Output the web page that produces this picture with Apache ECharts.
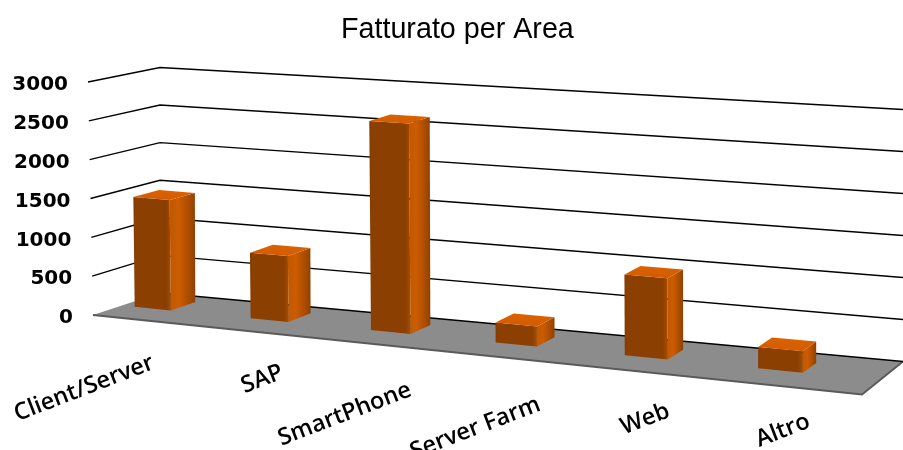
<!DOCTYPE html>
<html><head><meta charset="utf-8">
<style>html,body{margin:0;padding:0;background:#fff}#c{width:903px;height:450px}</style>
<script src="https://cdn.jsdelivr.net/npm/echarts@6/dist/echarts.min.js"></script>
</head><body><div id="c"></div>
<script>
const titleText = 'Fatturato per Area';
const categories = ['Client/Server','SAP','SmartPhone','Server Farm','Web','Altro'];
const fatturato = [1430,840,2630,246,978,255];
const yTicks = [0,500,1000,1500,2000,2500,3000];
// small per-label corrections of the tilted category labels [dx, dy]
const labelShift = [[0,0],[1,-2],[1,4],[2,7],[3,2],[15,1]];

const chart = echarts.init(document.getElementById('c'), null, {renderer:'canvas'});
const GL=93, GR=41, GT=82, GB=135;

// oblique projection of the plot box: across (a 0..1), depth (d 0..1), height in grid pixels
function warp(u){ return -0.034 + 0.89*u + 0.104*u*u; }
function proj(cs, a, d, h){
  const w = cs.width, bottom = cs.y + cs.height;
  const lean = 5/233*h*(1-d)*(1-a);
  const x = cs.x + 67*d + (w - 26*d)*a - lean;
  const y0 = bottom - 22*d + (79.5 - 11*d)*a;
  const f = (1 + 0.117*a)*(1 - 0.032*d);
  return [x, y0 - h*f];
}
const hpx = (api, cs, v) => cs.y + cs.height - api.coord([0, v])[1];

function renderFloor(params, api){
  const cs = params.coordSys;
  if (params.dataIndex !== 0) return null;
  const c = [proj(cs,0,0,0), proj(cs,1,0,0), proj(cs,1,1,0), proj(cs,0,1,0)];
  return {type:'group', children:[
    {type:'polygon', shape:{points:c}, style:{fill:'#8c8c8c'}},
    {type:'polyline', shape:{points:[c[0],c[1],c[2]]}, style:{stroke:'#5a5a5a', lineWidth:2, fill:null}}
  ]};
}
function renderGrid(params, api){
  const cs = params.coordSys, v = api.value(1), h = hpx(api, cs, v);
  const pts = v === 0 ? [proj(cs,0,1,h), proj(cs,1,1,h)]
                      : [proj(cs,0,0,h), proj(cs,0,1,h), proj(cs,1,1,h)];
  return {type:'polyline', shape:{points:pts}, style:{stroke:'#000', lineWidth:1.4, fill:null}};
}
function renderBar(params, api){
  const cs = params.coordSys, i = api.value(0), v = api.value(1);
  const s = api.coord([i, 0])[0];
  const u = (s - cs.x)/cs.width;
  const band = api.size([1,0])[0]/cs.width;
  const c = warp(u), hw = band*(0.14 + 0.04*u);
  const al = c-hw, ar = c+hw, df = 0.43, db = 0.81 - 0.08*u;
  const h = hpx(api, cs, v);
  const P = (a,d,t) => proj(cs,a,d,t);
  const grad = (x2,y2,st) => ({type:'linear',x:0,y:0,x2,y2,colorStops:st.map(q=>({offset:q[0],color:q[1]}))});
  return {type:'group', children:[
    {type:'polygon', shape:{points:[P(ar,df,0),P(ar,db,0),P(ar,db,h),P(ar,df,h)]},
     style:{fill:grad(1,0,[[0,'#c05800'],[0.35,'#cc5c00'],[0.75,'#aa4c00'],[1,'#8e4100']])}},
    {type:'polygon', shape:{points:[P(al,df,0),P(ar,df,0),P(ar,df,h),P(al,df,h)]},
     style:{fill:grad(1,0,[[0,'#843b00'],[0.06,'#8b3f00'],[0.88,'#8b3f00'],[1,'#a84c00']])}},
    {type:'polygon', shape:{points:[P(al,df,h),P(ar,df,h),P(ar,db,h),P(al,db,h)]},
     style:{fill:grad(0,1,[[0,'#dc6200'],[1,'#d25c00']])}}
  ]};
}
function renderLabel(params, api){
  const cs = params.coordSys, i = api.value(0);
  const s = api.coord([i, 0])[0];
  const sh = labelShift[i];
  return {type:'text', x: s - 4 + sh[0], y: 362 + (s - cs.x - 64)*0.09 + sh[1], rotation: 21*Math.PI/180,
    style:{text: categories[i], align:'right', verticalAlign:'middle',
      font:'600 23.5px "Open Sans"', fill:'#000'}};
}

const rich = {};
yTicks.forEach((t,i)=>{ rich['l'+i] = {fontFamily:'DejaVu Sans', fontWeight:'bold', fontSize:20, color:'#000', padding:[6,i*5/6,0,0]}; });

chart.setOption({
  animation:false,
  backgroundColor:'#fff',
  title:{text:titleText, left:341, top:16, padding:0, itemGap:0,
    textStyle:{fontFamily:'Liberation Sans', fontSize:28.7, fontWeight:'normal', color:'#000'}},
  grid:{left:GL, right:GR, top:GT, bottom:GB},
  xAxis:{type:'category', data:categories, axisLine:{show:false}, axisTick:{show:false}, axisLabel:{show:false}, splitLine:{show:false}},
  yAxis:{type:'value', min:0, max:3000, interval:500, axisLine:{show:false}, axisTick:{show:false}, splitLine:{show:false},
    axisLabel:{margin:20, color:'#000', formatter:(v)=>'{l'+yTicks.indexOf(v)+'|'+v+'}', rich}},
  series:[
    {type:'custom', name:'floor', coordinateSystem:'cartesian2d', silent:true, z:1, clip:false, renderItem:renderFloor,
     encode:{x:0,y:1}, data:[[0,0]]},
    {type:'custom', name:'griglia', coordinateSystem:'cartesian2d', silent:true, z:2, clip:false, renderItem:renderGrid,
     encode:{x:0,y:1}, data:yTicks.map(t=>[0,t])},
    {type:'custom', name:'Fatturato', coordinateSystem:'cartesian2d', z:3, clip:false, renderItem:renderBar,
     encode:{x:0,y:1}, data:fatturato.map((v,i)=>[i,v])},
    {type:'custom', name:'etichette', coordinateSystem:'cartesian2d', silent:true, z:4, clip:false, renderItem:renderLabel,
     encode:{x:0,y:1}, data:categories.map((c,i)=>[i,0])}
  ]
});
</script></body></html>
